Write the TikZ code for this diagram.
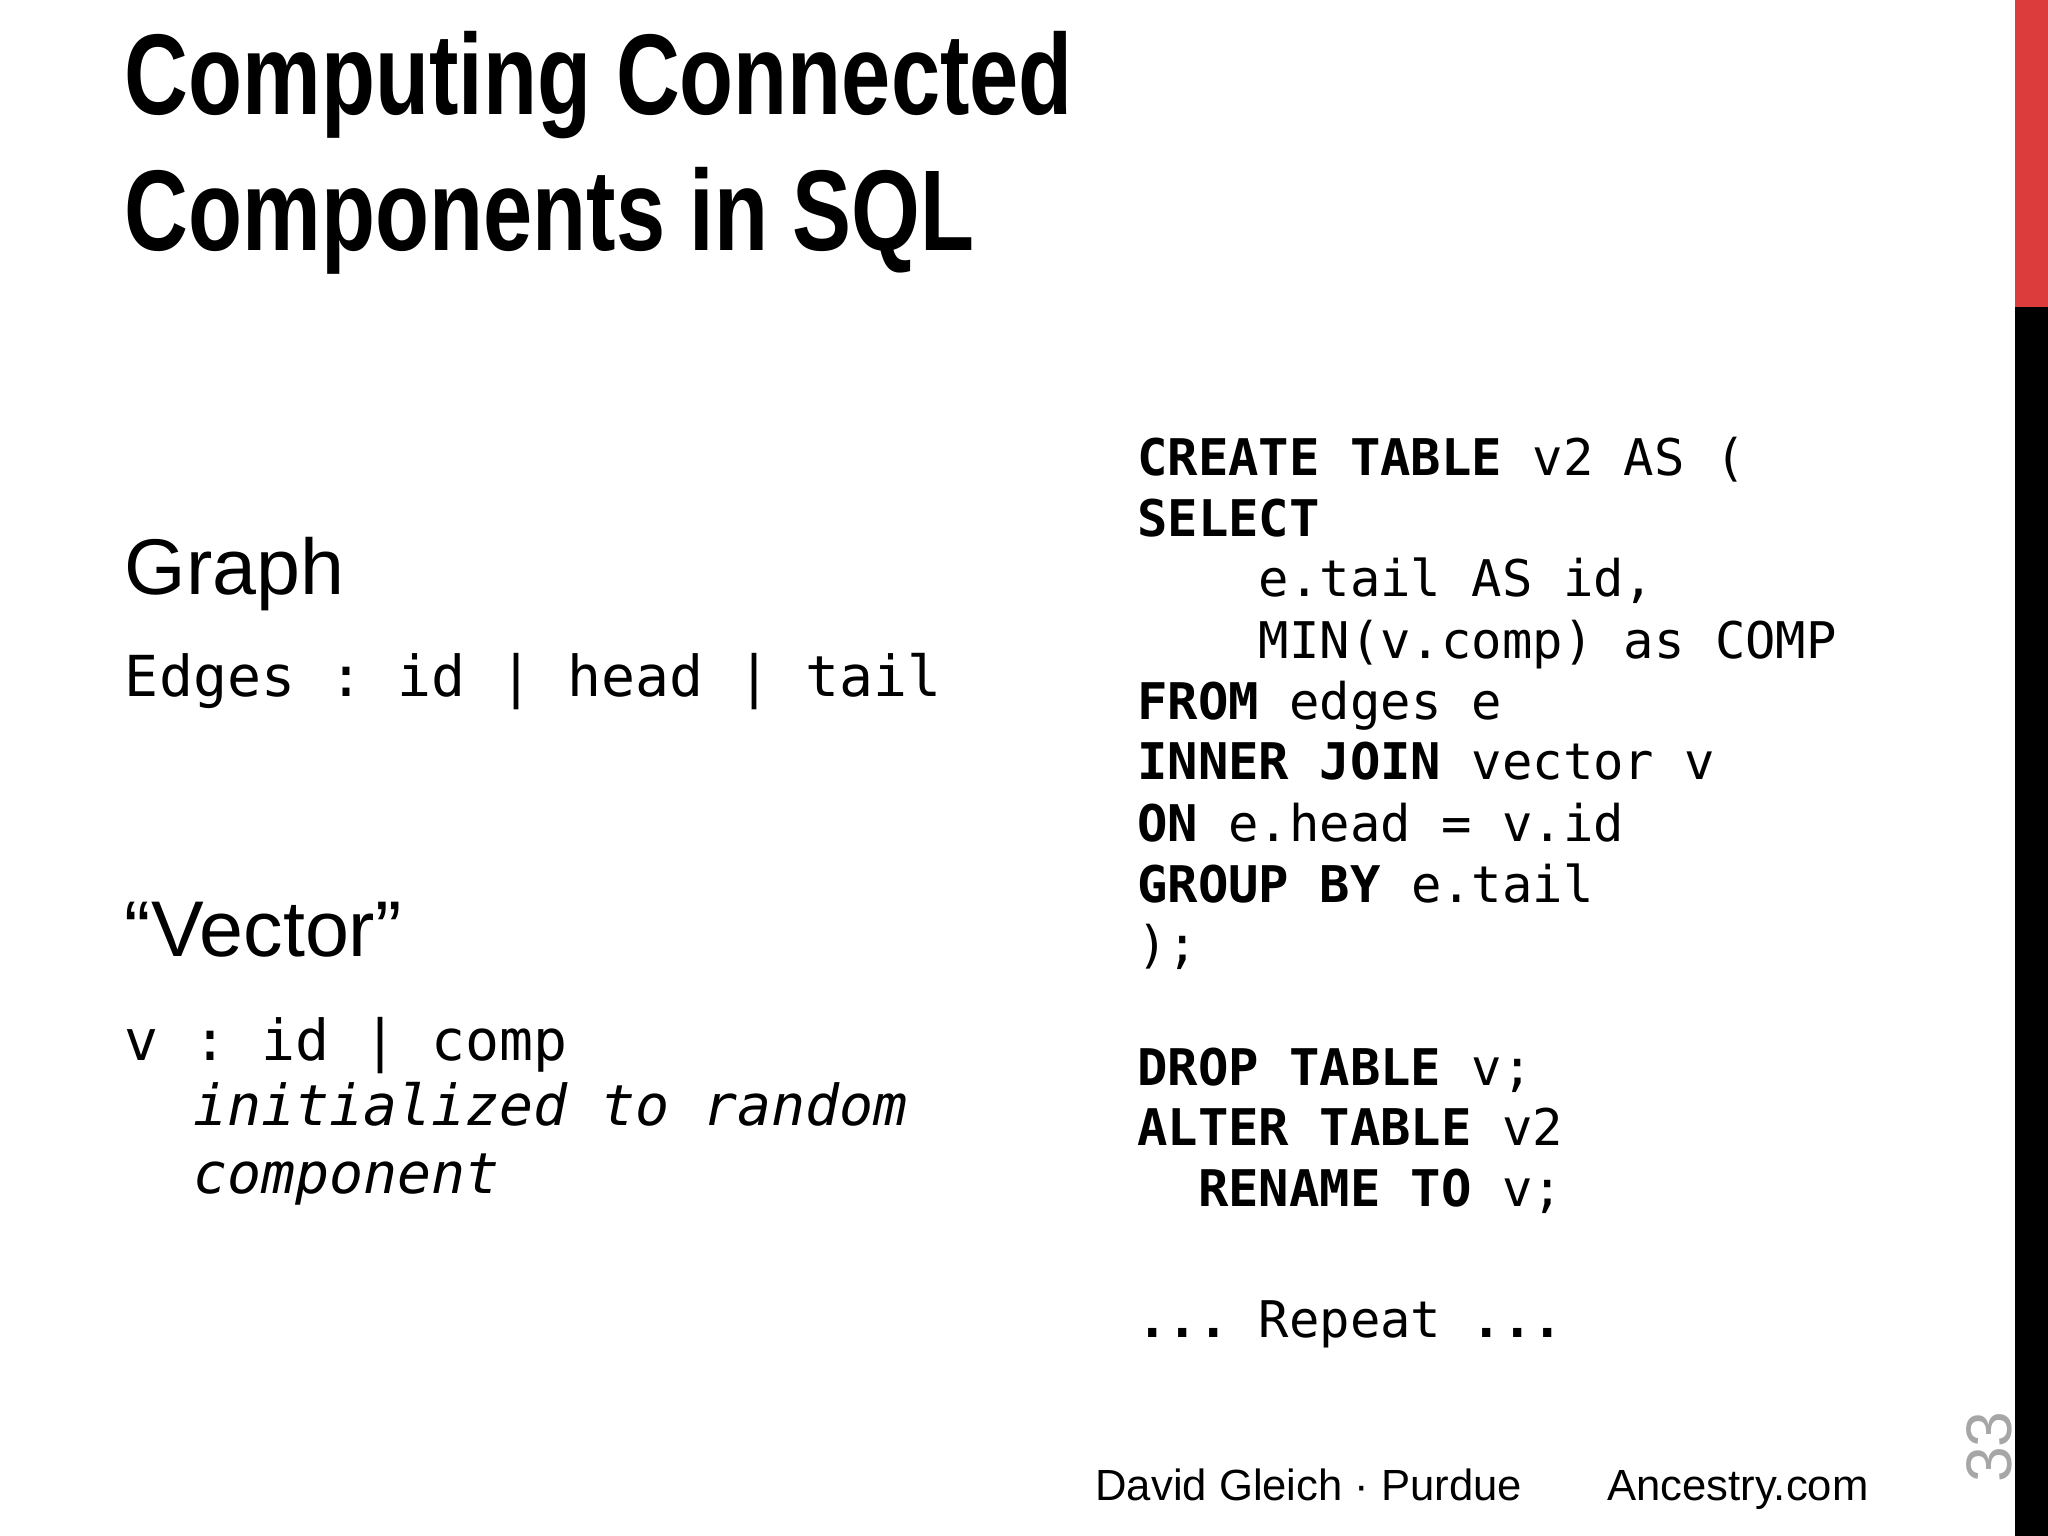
\documentclass[tikz,border=0pt]{standalone}
\usepackage{fontspec}
\setmainfont{Liberation Sans}
\newfontfamily\titlefont[FakeStretch=0.77]{Liberation Sans}
\setmonofont{DejaVu Sans Mono}
\begin{document}
\begin{tikzpicture}[x=0.01cm,y=-0.01cm,
  codeline/.style={anchor=base west,inner sep=0pt,font=\fontsize{11}{13}\selectfont\ttfamily},
  leftmono/.style={anchor=base west,inner sep=0pt,font=\fontsize{12.3}{14}\selectfont\ttfamily},
  heading/.style={anchor=base west,inner sep=0pt,font=\fontsize{17.2}{19}\selectfont},
  foot/.style={anchor=base west,inner sep=0pt,font=\fontsize{9.5}{12}\selectfont}]
\useasboundingbox (0,0) rectangle (1568,1176);
\fill[white] (0,0) rectangle (1568,1176);
\fill[fill={rgb,255:red,220;green,60;blue,60}] (1543,0) rectangle (1568,235);
\fill[black] (1543,235) rectangle (1568,1176);
\node[anchor=base west,inner sep=0pt,font=\fontsize{25}{29.5}\selectfont\titlefont\bfseries] (title1) at (95,88) {Computing Connected};
\node[anchor=base west,inner sep=0pt,font=\fontsize{25}{29.5}\selectfont\titlefont\bfseries] (title2) at (95,192) {Components in SQL};
\node[heading] (graph) at (95,455) {Graph};
\node[leftmono] (edges) at (95,533) {Edges : id | head | tail};
\node[heading] (vector) at (95,732) {“Vector”};
\node[leftmono] (v1) at (95,812) {v : id | comp};
\node[leftmono] (v2) at (95,862) {\hspace{2\fontcharwd\font`0}\itshape initialized to random};
\node[leftmono] (v3) at (95,914) {\hspace{2\fontcharwd\font`0}\itshape component};
\node[codeline] (c1) at (870,364) {\textbf{CREATE TABLE} v2 AS (};
\node[codeline] (c2) at (870,411) {\textbf{SELECT}};
\node[codeline] (c3) at (870,457) {\ \ \ \ e.tail AS id,};
\node[codeline] (c4) at (870,504) {\ \ \ \ MIN(v.comp) as COMP};
\node[codeline] (c5) at (870,551) {\textbf{FROM} edges e};
\node[codeline] (c6) at (870,597) {\textbf{INNER JOIN} vector v};
\node[codeline] (c7) at (870,644) {\textbf{ON} e.head = v.id};
\node[codeline] (c8) at (870,691) {\textbf{GROUP BY} e.tail};
\node[codeline] (c9) at (870,737) {);};
\node[codeline] (c10) at (870,831) {\textbf{DROP TABLE} v;};
\node[codeline] (c11) at (870,877) {\textbf{ALTER TABLE} v2};
\node[codeline] (c12) at (870,924) {\ \ \textbf{RENAME TO} v;};
\node[codeline] (c13) at (870,1024) {\textbf{...} Repeat \textbf{...}};
\node[foot] (f1) at (838,1149) {David Gleich · Purdue};
\node[foot] (f2) at (1230,1149) {Ancestry.com};
\node[anchor=base,inner sep=0pt,rotate=90,text=gray!70,font=\fontsize{14}{16}\selectfont] (pg) at (1540,1108) {33};
\end{tikzpicture}
\end{document}
